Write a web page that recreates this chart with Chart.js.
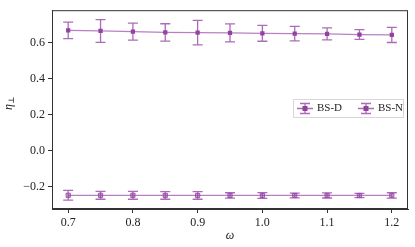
<!DOCTYPE html>
<html>
<head>
<meta charset="utf-8">
<script src="https://cdn.jsdelivr.net/npm/chart.js@4.4.1/dist/chart.umd.min.js"></script>
<style>
  html, body { margin: 0; padding: 0; background: #fff; }
  #wrap { width: 415px; height: 247px; position: relative; }
</style>
</head>
<body>
<div id="wrap"><canvas id="c"></canvas></div>
<script>
// omega values and measured eta (mean and error)
const omega = [0.7, 0.75, 0.8, 0.85, 0.9, 0.95, 1.0, 1.05, 1.1, 1.15, 1.2];
const bsD = [0.668, 0.665, 0.661, 0.657, 0.656, 0.654, 0.652, 0.650, 0.649, 0.645, 0.643];
const bsDErr = [0.046, 0.063, 0.047, 0.048, 0.068, 0.050, 0.044, 0.040, 0.033, 0.027, 0.042];
const bsN = [-0.246, -0.246, -0.246, -0.247, -0.247, -0.247, -0.247, -0.247, -0.247, -0.247, -0.247];
const bsNErr = [0.027, 0.022, 0.022, 0.021, 0.021, 0.015, 0.016, 0.013, 0.014, 0.012, 0.015];
const xTicks = [0.7, 0.8, 0.9, 1.0, 1.1, 1.2];
const yTicks = [-0.2, 0.0, 0.2, 0.4, 0.6];
const seriesNames = ['BS-D', 'BS-N'];

const C = {
  purple: '#9140a0',
  bar:    'rgba(150,70,165,0.8)',
  line:   'rgba(160,85,175,0.75)',
  axis:   '#333333',
  text:   '#222222'
};
const FONT = "'Liberation Serif', 'DejaVu Serif', serif";

const pts = (ys) => omega.map((x, i) => ({ x, y: ys[i] }));

// error bars drawn through the scales
const errorBars = {
  id: 'errorBars',
  afterDatasetsDraw(chart) {
    const { ctx, scales: { x, y } } = chart;
    const errs = [bsDErr, bsNErr];
    const vals = [bsD, bsN];
    ctx.save();
    ctx.strokeStyle = C.bar;
    ctx.lineWidth = 1.3;
    vals.forEach((ys, s) => {
      ys.forEach((v, i) => {
        const px = x.getPixelForValue(omega[i]);
        const top = y.getPixelForValue(v + errs[s][i]);
        const bot = y.getPixelForValue(v - errs[s][i]);
        ctx.beginPath();
        ctx.moveTo(px, top); ctx.lineTo(px, bot);
        ctx.moveTo(px - 5, top); ctx.lineTo(px + 5, top);
        ctx.moveTo(px - 5, bot); ctx.lineTo(px + 5, bot);
        ctx.stroke();
      });
    });
    ctx.restore();
  }
};

// full box around the plot, legend inside at right middle, y label
const frame = {
  id: 'frame',
  afterDraw(chart) {
    const { ctx, chartArea: a } = chart;
    ctx.save();
    ctx.strokeStyle = C.axis;
    ctx.lineWidth = 1;
    ctx.strokeRect(a.left + 0.5, a.top + 0.5, a.right - a.left - 1, a.bottom - a.top - 1);

    // legend
    const lx = 293, ly = 99, lw = 110, lh = 18;
    ctx.fillStyle = 'rgba(255,255,255,0.85)';
    ctx.fillRect(lx, ly, lw, lh);
    ctx.strokeStyle = '#d8d8d8';
    ctx.strokeRect(lx + 0.5, ly + 0.5, lw, lh);
    ctx.font = '11px ' + FONT;
    ctx.textBaseline = 'middle';
    seriesNames.forEach((name, k) => {
      const cx = lx + 12 + k * 61, cy = ly + lh / 2 + 0.5;
      ctx.strokeStyle = C.bar;
      ctx.lineWidth = 1.3;
      ctx.beginPath();
      ctx.moveTo(cx - 8, cy); ctx.lineTo(cx + 8, cy);
      ctx.moveTo(cx, cy - 5); ctx.lineTo(cx, cy + 5);
      ctx.moveTo(cx - 5, cy - 5); ctx.lineTo(cx + 5, cy - 5);
      ctx.moveTo(cx - 5, cy + 5); ctx.lineTo(cx + 5, cy + 5);
      ctx.stroke();
      ctx.fillStyle = C.purple;
      ctx.fillRect(cx - 2.5, cy - 2.5, 5, 5);
      ctx.fillStyle = C.text;
      ctx.fillText(name, cx + 12, cy);
    });

    // y label: eta with perpendicular subscript
    ctx.translate(12, 104);
    ctx.rotate(-Math.PI / 2);
    ctx.fillStyle = C.text;
    ctx.textBaseline = 'alphabetic';
    ctx.font = 'italic 12px ' + FONT;
    ctx.fillText('η', -6, 0);
    ctx.font = '8px ' + FONT;
    ctx.fillText('⊥', 0, 2);
    ctx.restore();
  }
};

new Chart(document.getElementById('c'), {
  type: 'scatter',
  data: {
    datasets: [
      {
        label: seriesNames[0], data: pts(bsD), showLine: true,
        borderColor: C.line, borderWidth: 1.3, pointStyle: 'rect',
        pointRadius: 3, pointBackgroundColor: C.purple, pointBorderWidth: 0
      },
      {
        label: seriesNames[1], data: pts(bsN), showLine: true,
        borderColor: C.line, borderWidth: 1.3, pointStyle: 'rect',
        pointRadius: 3, pointBackgroundColor: 'rgba(145,64,160,0.45)',
        pointBorderColor: 'rgba(145,64,160,0.8)', pointBorderWidth: 1
      }
    ]
  },
  options: {
    responsive: true, maintainAspectRatio: false, animation: false,
    layout: { padding: { left: 0, right: 7, top: 6, bottom: 4 } },
    plugins: { legend: { display: false }, tooltip: { enabled: false } },
    scales: {
      x: {
        type: 'linear', min: 0.675, max: 1.225,
        afterBuildTicks: s => { s.ticks = xTicks.map(v => ({ value: v })); },
        afterFit: s => { s.height = 34; },
        grid: { drawOnChartArea: false, tickLength: 4, color: C.axis },
        border: { color: C.axis },
        ticks: { color: C.text, font: { family: FONT, size: 12 }, padding: 3, callback: v => v.toFixed(1) },
        title: { display: true, text: 'ω', color: C.text, font: { family: FONT, size: 12, style: 'italic' }, padding: { top: 0, bottom: 0 } }
      },
      y: {
        min: -0.322, max: 0.78,
        afterBuildTicks: s => { s.ticks = yTicks.map(v => ({ value: v })); },
        afterFit: s => { s.width = 52; },
        grid: { drawOnChartArea: false, tickLength: 4, color: C.axis },
        border: { color: C.axis },
        ticks: { color: C.text, font: { family: FONT, size: 12 }, padding: 3, callback: v => v.toFixed(1).replace('-', '\u2212') }
      }
    }
  },
  plugins: [errorBars, frame]
});
</script>
</body>
</html>
